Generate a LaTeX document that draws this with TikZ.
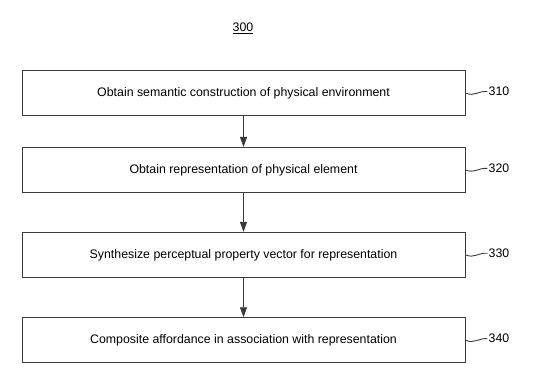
\documentclass[tikz,border=0pt]{standalone}
\usepackage{fontspec}
\setmainfont{Liberation Sans}
\usetikzlibrary{arrows.meta,positioning}
\definecolor{linegray}{HTML}{3A3A3A}

\begin{document}
\begin{tikzpicture}[
  x=1bp,y=-1bp,
  font=\fontsize{12.4}{14}\selectfont,
  >={Triangle[length=10bp,width=7bp]},
  edge/.style={->,draw=linegray,line width=0.9bp},
  stepbox/.style={draw=linegray,line width=0.9bp,minimum width=443bp,
                  minimum height=45bp,inner sep=0pt},
  reflabel/.style={inner sep=1bp,anchor=west},
  squig/.style={draw=linegray,line width=0.9bp}
]
\useasboundingbox (0,0) rectangle (547,388);
\node (fignum) at (243,28) {\underline{300}};
\node[stepbox] (semantic) at (243.5,93)
  {Obtain semantic construction of physical environment};
\node[stepbox,below=31bp of semantic] (represent)
  {Obtain representation of physical element};
\node[stepbox,below=39bp of represent] (synthesize)
  {Synthesize perceptual property vector for representation};
\node[stepbox,below=39.5bp of synthesize] (composite)
  {Composite affordance in association with representation};

% reference numerals
\node[reflabel] (ref310) at ([xshift=22bp,yshift=1.5bp]semantic.east) {310};
\node[reflabel] (ref320) at ([xshift=22bp,yshift=1.5bp]represent.east) {320};
\node[reflabel] (ref330) at ([xshift=22bp,yshift=1.5bp]synthesize.east) {330};
\node[reflabel] (ref340) at ([xshift=22bp,yshift=1.5bp]composite.east) {340};

\draw[edge] (semantic) -- (represent);
\draw[edge] (represent) -- (synthesize);
\draw[edge] (synthesize) -- (composite);

\foreach \b/\r in {semantic/ref310,represent/ref320,synthesize/ref330,composite/ref340}
  \draw[squig] (\b.east) .. controls +(9,4) and +(-9,-1) .. (\r.west);
\end{tikzpicture}
\end{document}
